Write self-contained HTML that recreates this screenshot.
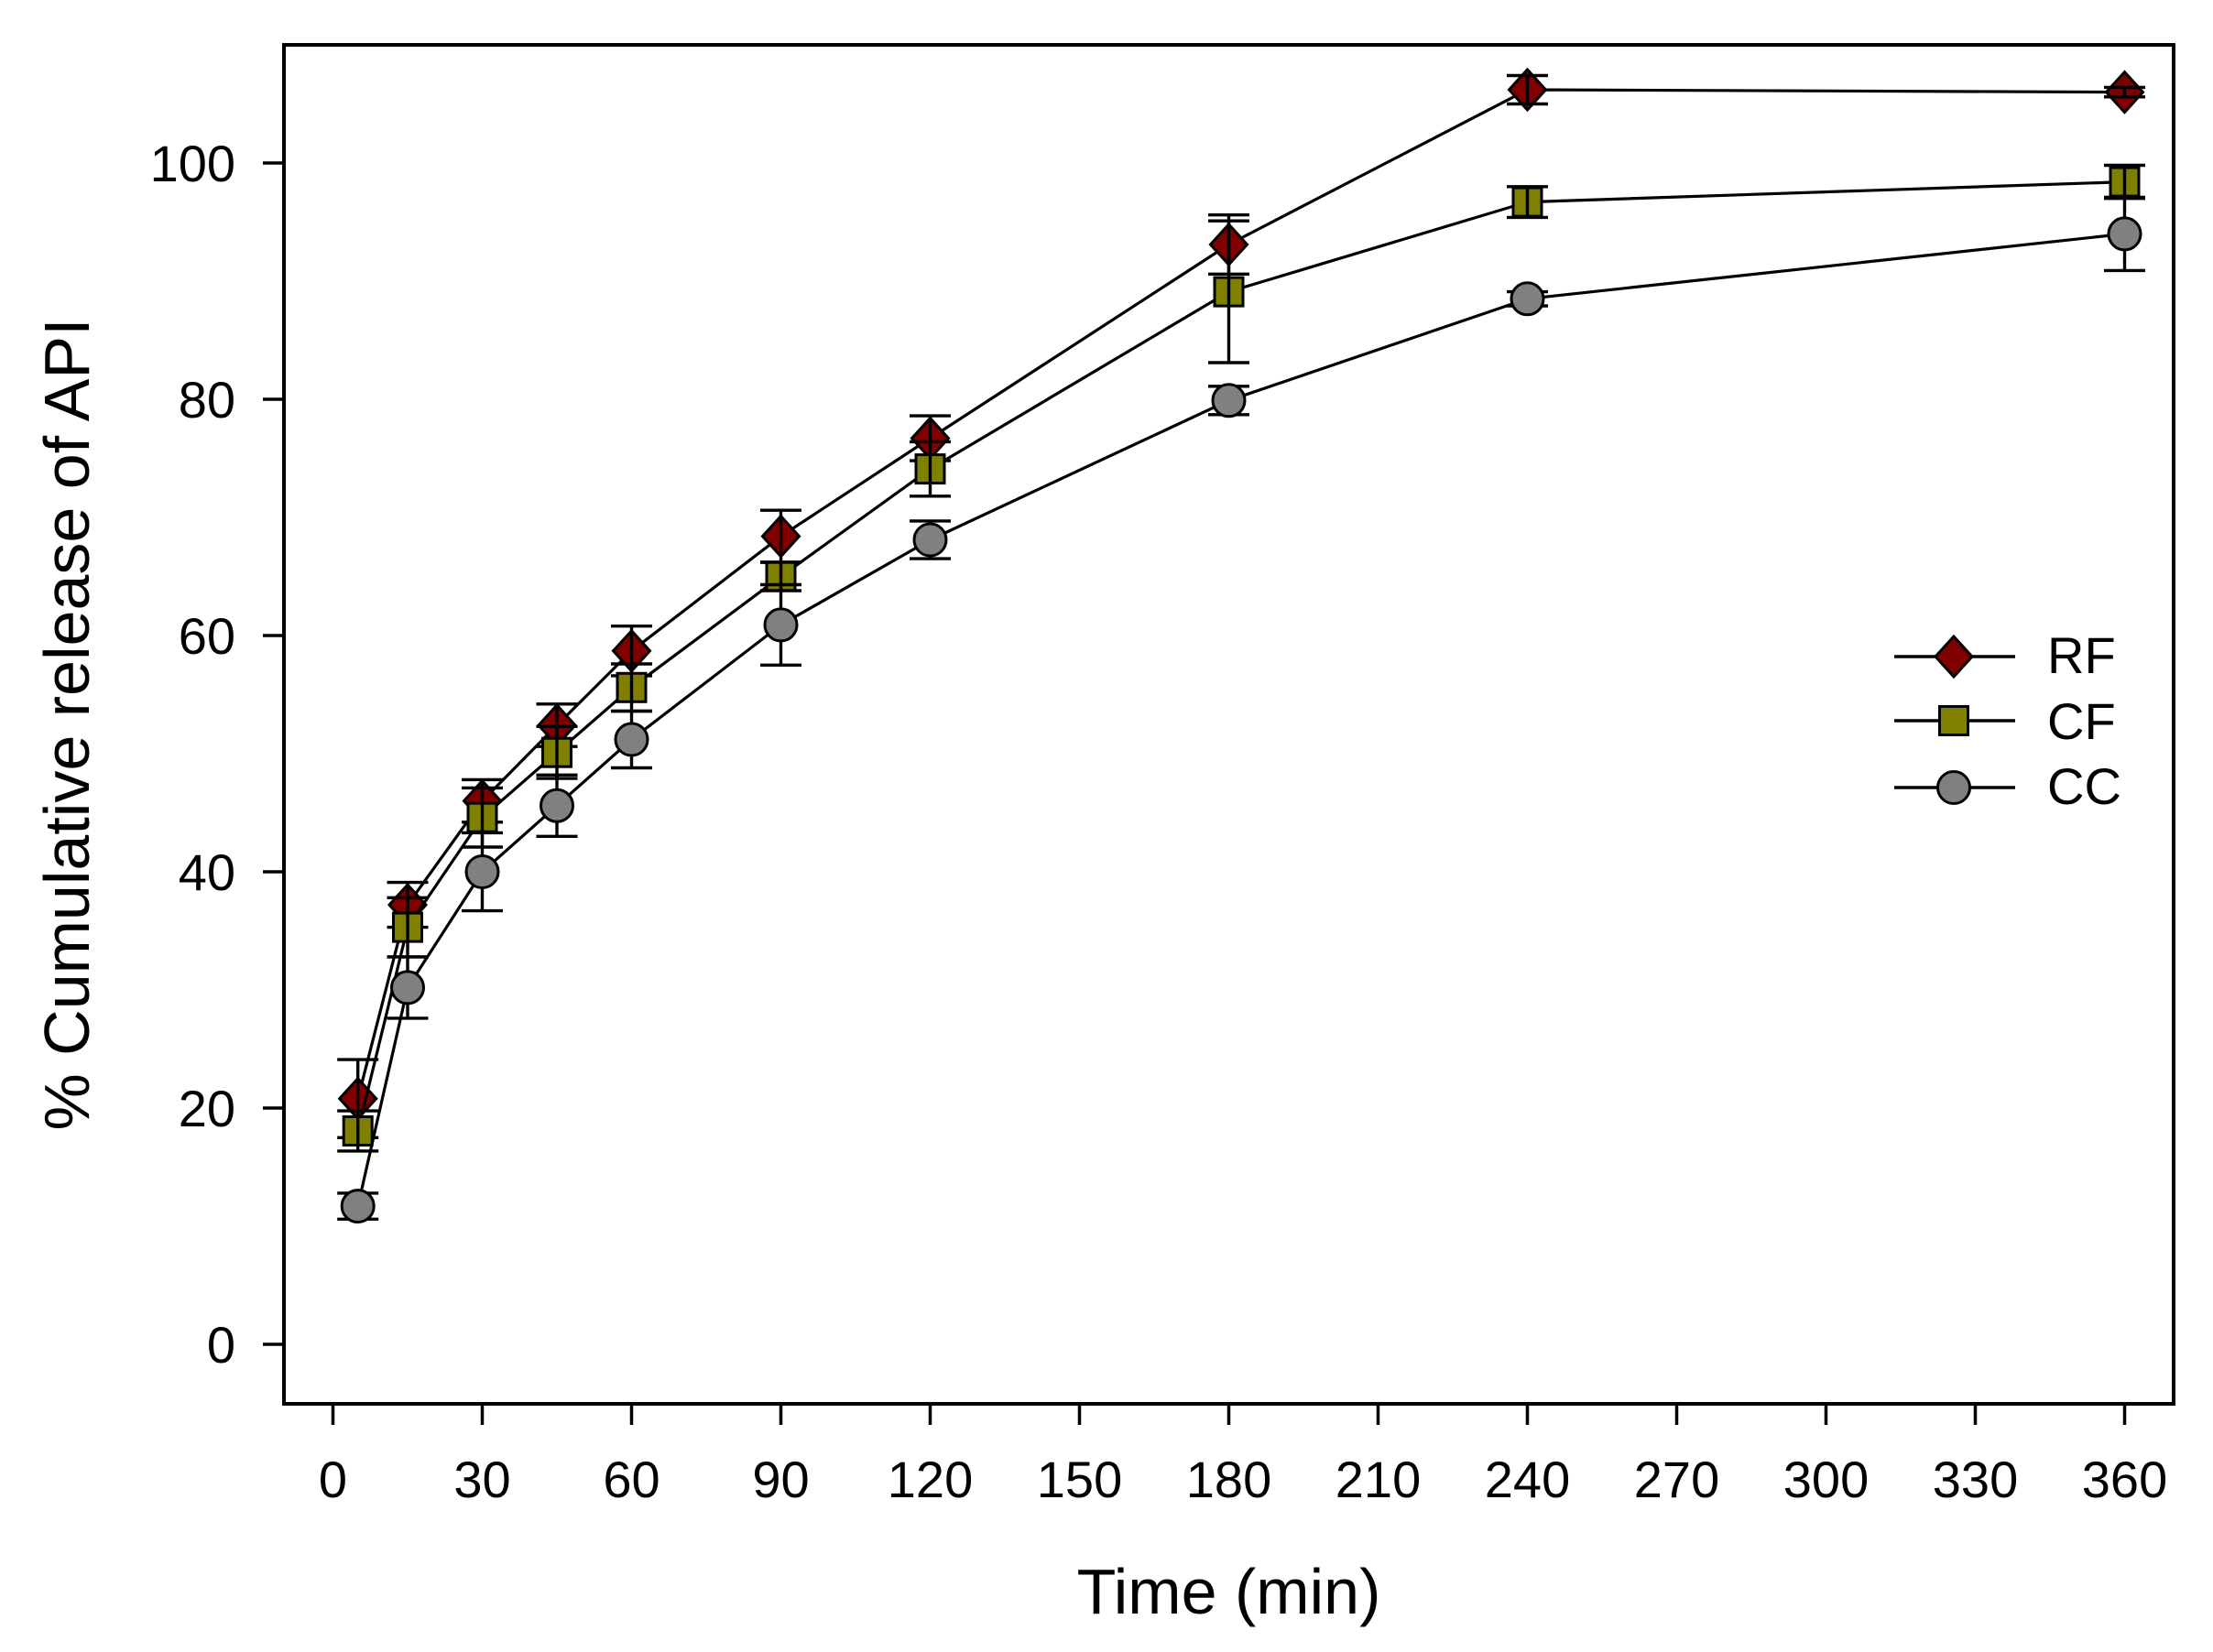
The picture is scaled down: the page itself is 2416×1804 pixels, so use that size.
<!DOCTYPE html>
<html>
<head>
<meta charset="utf-8">
<style>
html,body{margin:0;padding:0;background:#fff;}
svg{display:block;}
text{font-family:"Liberation Sans",Arial,sans-serif;fill:#000;}
</style>
</head>
<body>
<svg width="2416" height="1804" viewBox="0 0 2416 1804" xmlns="http://www.w3.org/2000/svg">
<rect x="0" y="0" width="2416" height="1804" fill="#fff"/>

<!-- frame -->
<rect x="310" y="49" width="2063" height="1484" fill="none" stroke="#000" stroke-width="4"/>

<!-- y ticks -->
<g stroke="#000" stroke-width="3.5">
<line x1="287" y1="1468" x2="310" y2="1468"/>
<line x1="287" y1="1210" x2="310" y2="1210"/>
<line x1="287" y1="952" x2="310" y2="952"/>
<line x1="287" y1="694" x2="310" y2="694"/>
<line x1="287" y1="436" x2="310" y2="436"/>
<line x1="287" y1="178" x2="310" y2="178"/>
</g>
<g font-size="56" text-anchor="end">
<text x="257" y="1488">0</text>
<text x="257" y="1230">20</text>
<text x="257" y="972">40</text>
<text x="257" y="714">60</text>
<text x="257" y="456">80</text>
<text x="257" y="198">100</text>
</g>

<!-- x ticks -->
<g stroke="#000" stroke-width="3.5">
<line x1="363.5" y1="1533" x2="363.5" y2="1556"/>
<line x1="526.5" y1="1533" x2="526.5" y2="1556"/>
<line x1="689.5" y1="1533" x2="689.5" y2="1556"/>
<line x1="852.5" y1="1533" x2="852.5" y2="1556"/>
<line x1="1015.5" y1="1533" x2="1015.5" y2="1556"/>
<line x1="1178.5" y1="1533" x2="1178.5" y2="1556"/>
<line x1="1341.5" y1="1533" x2="1341.5" y2="1556"/>
<line x1="1504.5" y1="1533" x2="1504.5" y2="1556"/>
<line x1="1667.5" y1="1533" x2="1667.5" y2="1556"/>
<line x1="1830.5" y1="1533" x2="1830.5" y2="1556"/>
<line x1="1993.5" y1="1533" x2="1993.5" y2="1556"/>
<line x1="2156.5" y1="1533" x2="2156.5" y2="1556"/>
<line x1="2319.5" y1="1533" x2="2319.5" y2="1556"/>
</g>
<g font-size="56" text-anchor="middle">
<text x="363.5" y="1635">0</text>
<text x="526.5" y="1635">30</text>
<text x="689.5" y="1635">60</text>
<text x="852.5" y="1635">90</text>
<text x="1015.5" y="1635">120</text>
<text x="1178.5" y="1635">150</text>
<text x="1341.5" y="1635">180</text>
<text x="1504.5" y="1635">210</text>
<text x="1667.5" y="1635">240</text>
<text x="1830.5" y="1635">270</text>
<text x="1993.5" y="1635">300</text>
<text x="2156.5" y="1635">330</text>
<text x="2319.5" y="1635">360</text>
</g>

<!-- axis titles -->
<text x="1341.5" y="1762" font-size="70" text-anchor="middle">Time (min)</text>
<text transform="translate(97,791) rotate(-90)" x="0" y="0" font-size="70" text-anchor="middle">% Cumulative release of API</text>

<!-- ===== RF series ===== -->
<polyline fill="none" stroke="#000" stroke-width="3.2" points="390.7,1199.7 445,988.1 526.5,874.6 608,792 689.5,710.8 852.5,585.6 1015.5,478.6 1341.5,267 1667.5,98 2319.5,100.6"/>
<g fill="#800000" stroke="#000" stroke-width="3">
<polygon points="390.7,1177.7 410.7,1199.7 390.7,1221.7 370.7,1199.7"/>
<polygon points="445,966.1 465,988.1 445,1010.1 425,988.1"/>
<polygon points="526.5,852.6 546.5,874.6 526.5,896.6 506.5,874.6"/>
<polygon points="608,770 628,792 608,814 588,792"/>
<polygon points="689.5,688.8 709.5,710.8 689.5,732.8 669.5,710.8"/>
<polygon points="852.5,563.6 872.5,585.6 852.5,607.6 832.5,585.6"/>
<polygon points="1015.5,456.6 1035.5,478.6 1015.5,500.6 995.5,478.6"/>
<polygon points="1341.5,245 1361.5,267 1341.5,289 1321.5,267"/>
<polygon points="1667.5,76 1687.5,98 1667.5,120 1647.5,98"/>
<polygon points="2319.5,78.6 2339.5,100.6 2319.5,122.6 2299.5,100.6"/>
</g>
<g stroke="#000" stroke-width="3.4" fill="none">
<path d="M390.7,1157.1V1242.3M368.2,1157.1H413.2M368.2,1242.3H413.2"/>
<path d="M445,963.6V1012.6M422.5,963.6H467.5M422.5,1012.6H467.5"/>
<path d="M526.5,851.4V897.8M504,851.4H549M504,897.8H549"/>
<path d="M608,768.8V815.2M585.5,768.8H630.5M585.5,815.2H630.5"/>
<path d="M689.5,683.7V737.9M667,683.7H712M667,737.9H712"/>
<path d="M852.5,557.2V614M830,557.2H875M830,614H875"/>
<path d="M1015.5,454.1V503.1M993,454.1H1038M993,503.1H1038"/>
<path d="M1341.5,234.7V299.3M1319,234.7H1364M1319,299.3H1364"/>
<path d="M1667.5,82.5V113.5M1645,82.5H1690M1645,113.5H1690"/>
<path d="M2319.5,95.4V105.8M2297,95.4H2342M2297,105.8H2342"/>
</g>

<!-- ===== CF series ===== -->
<polyline fill="none" stroke="#000" stroke-width="3.2" points="390.7,1235 445,1012.6 526.5,892.7 608,821.7 689.5,750.8 852.5,629.5 1015.5,512.1 1341.5,318.6 1667.5,220.6 2319.5,198.6"/>
<g fill="#808000" stroke="#000" stroke-width="3">
<rect x="375.2" y="1219.5" width="31" height="31"/>
<rect x="429.5" y="997.1" width="31" height="31"/>
<rect x="511" y="877.2" width="31" height="31"/>
<rect x="592.5" y="806.2" width="31" height="31"/>
<rect x="674" y="735.3" width="31" height="31"/>
<rect x="837" y="614" width="31" height="31"/>
<rect x="1000" y="496.6" width="31" height="31"/>
<rect x="1326" y="303.1" width="31" height="31"/>
<rect x="1652" y="205.1" width="31" height="31"/>
<rect x="2304" y="183.1" width="31" height="31"/>
</g>
<g stroke="#000" stroke-width="3.4" fill="none">
<path d="M390.7,1213.1V1256.9M368.2,1213.1H413.2M368.2,1256.9H413.2"/>
<path d="M445,980.3V1044.9M422.5,980.3H467.5M422.5,1044.9H467.5"/>
<path d="M526.5,860.4V925M504,860.4H549M504,925H549"/>
<path d="M608,793.3V850.1M585.5,793.3H630.5M585.5,850.1H630.5"/>
<path d="M689.5,725V776.6M667,725H712M667,776.6H712"/>
<path d="M852.5,614V645M830,614H875M830,645H875"/>
<path d="M1015.5,482.4V541.8M993,482.4H1038M993,541.8H1038"/>
<path d="M1341.5,241.2V396M1319,241.2H1364M1319,396H1364"/>
<path d="M1667.5,203.8V237.4M1645,203.8H1690M1645,237.4H1690"/>
<path d="M2319.5,180.5V216.7M2297,180.5H2342M2297,216.7H2342"/>
</g>

<!-- ===== CC series ===== -->
<polyline fill="none" stroke="#000" stroke-width="3.2" points="390.7,1317.1 445,1078.4 526.5,952 608,879.8 689.5,807.5 852.5,682.4 1015.5,589.5 1341.5,437.3 1667.5,326.3 2319.5,255.4"/>
<g stroke="#000" stroke-width="3.4" fill="none">
<path d="M390.7,1302.9V1331.3M368.2,1302.9H413.2M368.2,1331.3H413.2"/>
<path d="M445,1044.9V1111.9M422.5,1044.9H467.5M422.5,1111.9H467.5"/>
<path d="M526.5,909.4V994.6M504,909.4H549M504,994.6H549"/>
<path d="M608,846.3V913.3M585.5,846.3H630.5M585.5,913.3H630.5"/>
<path d="M689.5,776.5V838.5M667,776.5H712M667,838.5H712"/>
<path d="M852.5,638.5V726.3M830,638.5H875M830,726.3H875"/>
<path d="M1015.5,568.9V610.1M993,568.9H1038M993,610.1H1038"/>
<path d="M1341.5,421.8V452.8M1319,421.8H1364M1319,452.8H1364"/>
<path d="M1667.5,318.6V334M1645,318.6H1690M1645,334H1690"/>
<path d="M2319.5,215.4V295.4M2297,215.4H2342M2297,295.4H2342"/>
</g>
<g fill="#808080" stroke="#000" stroke-width="3">
<circle cx="390.7" cy="1317.1" r="17.5"/>
<circle cx="445" cy="1078.4" r="17.5"/>
<circle cx="526.5" cy="952" r="17.5"/>
<circle cx="608" cy="879.8" r="17.5"/>
<circle cx="689.5" cy="807.5" r="17.5"/>
<circle cx="852.5" cy="682.4" r="17.5"/>
<circle cx="1015.5" cy="589.5" r="17.5"/>
<circle cx="1341.5" cy="437.3" r="17.5"/>
<circle cx="1667.5" cy="326.3" r="17.5"/>
<circle cx="2319.5" cy="255.4" r="17.5"/>
</g>

<!-- legend -->
<g stroke="#000" stroke-width="3.4">
<line x1="2068" y1="717" x2="2200" y2="717"/>
<line x1="2068" y1="787" x2="2200" y2="787"/>
<line x1="2068" y1="860" x2="2200" y2="860"/>
</g>
<polygon points="2133,695 2153,717 2133,739 2113,717" fill="#800000" stroke="#000" stroke-width="3"/>
<rect x="2117.5" y="771.5" width="31" height="31" fill="#808000" stroke="#000" stroke-width="3"/>
<circle cx="2133" cy="860" r="17.5" fill="#808080" stroke="#000" stroke-width="3"/>
<g font-size="56">
<text x="2235" y="735">RF</text>
<text x="2235" y="807">CF</text>
<text x="2235" y="878">CC</text>
</g>
</svg>
</body>
</html>
